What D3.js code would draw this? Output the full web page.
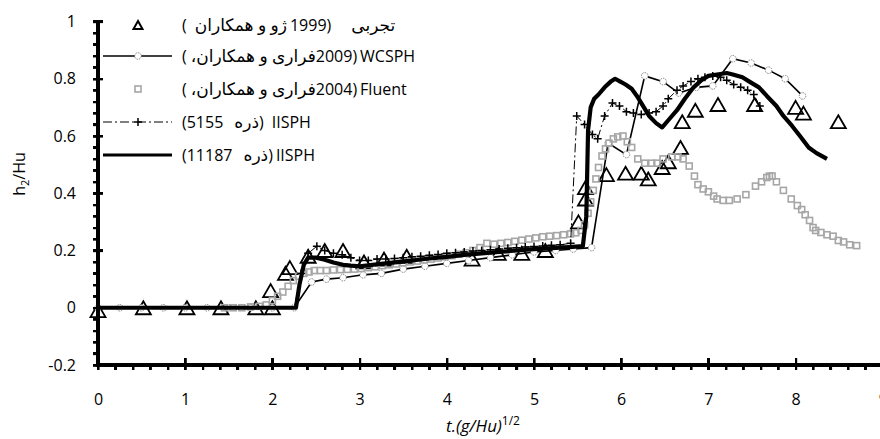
<!DOCTYPE html>
<html>
<head>
<meta charset="utf-8">
<script src="https://cdn.jsdelivr.net/npm/d3@7"></script>
<style>
body { margin: 0; background: #fff; overflow: hidden; }
svg { position: absolute; left: 0; top: 0; }
div.tk { position: absolute; background: #000; }
text { font-family: 'Open Sans', 'DejaVu Sans', sans-serif; fill: #000; }
</style>
</head>
<body>
<svg id="chart" width="880" height="439"></svg>
<script>
// tick labels
var xTicks = [0, 1, 2, 3, 4, 5, 6, 7, 8, 9];
var yTicks = [-0.2, 0, 0.2, 0.4, 0.6, 0.8, 1];
var yTickLabels = ["-0.2", "0", "0.2", "0.4", "0.6", "0.8", "1"];

// experimental (Zhou et al. 1999)
var expData = [[0,-0.01],[0.52,0],[1.02,0],[1.41,0],[1.81,0],[2.0,0],[1.98,0.06],[2.15,0.12],[2.2,0.14],
  [2.41,0.18],[2.6,0.2],[2.81,0.2],[3.05,0.16],[3.28,0.17],[3.54,0.18],[4.29,0.17],[4.59,0.19],[4.86,0.19],
  [5.13,0.2],[5.51,0.3],[5.59,0.38],[5.59,0.42],[5.83,0.465],[6.05,0.47],[6.23,0.47],[6.31,0.45],[6.47,0.49],
  [6.54,0.51],[6.68,0.56],[6.7,0.65],[6.85,0.69],[7.11,0.71],[7.53,0.71],[8.0,0.7],[8.09,0.68],[8.49,0.65]];

// WCSPH (Ferrari et al. 2009)
var wcsphData = [[0,0],[0.25,0],[0.5,0],[0.75,0],[1.0,0],[1.25,0],[1.5,0],[1.75,0],[2.0,0],[2.25,0],
  [2.45,0.09],[2.62,0.1],[2.81,0.105],[3.04,0.115],[3.25,0.12],[3.5,0.135],[3.75,0.145],[4.0,0.155],
  [4.25,0.165],[4.5,0.175],[4.75,0.185],[5.0,0.195],[5.25,0.2],[5.45,0.205],[5.66,0.21],[5.85,0.575],
  [6.06,0.535],[6.27,0.81],[6.48,0.79],[6.66,0.75],[6.86,0.77],[7.05,0.775],[7.28,0.87],[7.49,0.855],
  [7.69,0.83],[7.88,0.8],[8.08,0.74]];

// Fluent (Ferrari et al. 2004)
var fluentData = [[1.45,0],[1.55,0],[1.65,0],[1.75,0.003],[1.85,0.005],[1.93,0.01],[2.0,0.025],[2.06,0.04],
  [2.12,0.055],[2.18,0.075],[2.24,0.095],[2.3,0.11],[2.36,0.12],[2.42,0.125],[2.48,0.13],[2.55,0.13],
  [2.62,0.13],[2.7,0.132],[2.78,0.133],[2.86,0.134],[2.94,0.135],[3.02,0.137],[3.1,0.14],[3.18,0.143],
  [3.26,0.147],[3.34,0.15],[3.42,0.153],[3.5,0.157],[3.58,0.16],[3.66,0.163],[3.74,0.167],[3.82,0.17],
  [3.9,0.174],[3.98,0.178],[4.06,0.182],[4.14,0.187],[4.22,0.192],[4.3,0.2],[4.38,0.21],[4.46,0.225],
  [4.54,0.222],[4.62,0.225],[4.7,0.228],[4.78,0.232],[4.86,0.236],[4.94,0.24],[5.02,0.244],[5.1,0.248],
  [5.18,0.25],[5.26,0.252],[5.34,0.255],[5.42,0.258],[5.48,0.262],[5.54,0.27],[5.58,0.29],[5.62,0.33],
  [5.65,0.37],[5.68,0.41],[5.71,0.45],[5.74,0.49],[5.78,0.53],[5.82,0.555],[5.86,0.575],[5.91,0.59],
  [5.96,0.597],[6.02,0.6],[6.07,0.58],[6.12,0.56],[6.19,0.52],[6.27,0.505],[6.35,0.505],[6.41,0.505],
  [6.48,0.52],[6.58,0.527],[6.65,0.527],[6.71,0.52],[6.78,0.495],[6.84,0.46],[6.88,0.43],[6.94,0.415],
  [7.0,0.405],[7.06,0.39],[7.1,0.38],[7.17,0.375],[7.24,0.375],[7.33,0.38],[7.43,0.395],[7.54,0.425],
  [7.61,0.44],[7.67,0.455],[7.7,0.46],[7.73,0.46],[7.78,0.44],[7.86,0.41],[7.95,0.38],[8.02,0.357],
  [8.07,0.343],[8.11,0.325],[8.16,0.305],[8.2,0.28],[8.23,0.27],[8.29,0.263],[8.36,0.255],[8.43,0.25],
  [8.49,0.235],[8.55,0.23],[8.62,0.22],[8.7,0.217]];

// IISPH 5155 particles
var iisphSmall = [[0,0],[2.25,0],[2.33,0.12],[2.41,0.19],[2.51,0.215],[2.6,0.2],[2.7,0.19],[2.8,0.185],
  [2.9,0.175],[3.0,0.165],[3.1,0.165],[3.2,0.17],[3.3,0.17],[3.4,0.172],[3.5,0.175],[3.6,0.178],[3.7,0.18],
  [3.8,0.183],[3.9,0.186],[4.0,0.19],[4.1,0.192],[4.2,0.195],[4.3,0.198],[4.4,0.2],[4.5,0.203],[4.6,0.205],
  [4.7,0.208],[4.8,0.21],[4.9,0.212],[5.0,0.214],[5.1,0.216],[5.2,0.218],[5.3,0.22],[5.42,0.225],[5.49,0.67],
  [5.58,0.64],[5.67,0.605],[5.73,0.59],[5.81,0.67],[5.9,0.715],[5.98,0.705],[6.06,0.685],[6.14,0.68],
  [6.23,0.675],[6.32,0.68],[6.4,0.685],[6.48,0.705],[6.54,0.73],[6.64,0.76],[6.71,0.775],[6.8,0.79],
  [6.88,0.8],[6.96,0.805],[7.05,0.81],[7.14,0.805],[7.21,0.795],[7.29,0.78],[7.37,0.77],[7.45,0.76],
  [7.52,0.745],[7.59,0.705]];

// IISPH 11187 particles
var iisphLarge = [[0,0],[2.27,0],[2.31,0.08],[2.36,0.15],[2.41,0.175],[2.5,0.175],[2.6,0.168],[2.7,0.158],
  [2.81,0.15],[2.9,0.147],[3.0,0.145],[3.1,0.148],[3.2,0.152],[3.3,0.155],[3.46,0.16],[3.6,0.165],[3.8,0.172],
  [4.0,0.178],[4.2,0.185],[4.4,0.19],[4.6,0.195],[4.8,0.2],[5.0,0.205],[5.2,0.208],[5.4,0.212],[5.56,0.215],
  [5.6,0.32],[5.62,0.62],[5.65,0.7],[5.69,0.73],[5.74,0.745],[5.81,0.77],[5.88,0.79],[5.93,0.8],[5.99,0.79],
  [6.05,0.78],[6.12,0.765],[6.18,0.74],[6.25,0.705],[6.32,0.67],[6.4,0.645],[6.47,0.63],[6.54,0.655],
  [6.64,0.69],[6.73,0.73],[6.83,0.77],[6.92,0.795],[7.0,0.81],[7.1,0.815],[7.21,0.82],[7.28,0.815],
  [7.39,0.805],[7.47,0.79],[7.58,0.77],[7.67,0.74],[7.78,0.705],[7.86,0.67],[7.96,0.635],[8.05,0.6],
  [8.15,0.56],[8.24,0.54],[8.36,0.52]];

// legend rows, visual order left to right: [text, gap after, rtl]
var legendRows = [
  [["(",8,false],["ژو و همکاران",3,true],["1999",0,false],[")",20,false],["تجربی",0,true]],
  [["(",4,false],["فراری و همکاران،",0,true],["2009",0,false],[")",3,false],["WCSPH",0,false]],
  [["(",4,false],["فراری و همکاران،",0,true],["2004",0,false],[")",3,false],["Fluent",0,false]],
  [["(5155",11,false],["ذره",0,true],[")",8,false],["IISPH",0,false]],
  [["(11187",11,false],["ذره",0,true],[")",3,false],["IISPH",0,false]]
];

var svg = d3.select("#chart");
var x = d3.scaleLinear().domain([0, 9]).range([98, 882.8]);
var y = d3.scaleLinear().domain([-0.2, 1]).range([365, 21.5]);
var x0 = x(0), yB = y(-0.2);

// ---- axes ----
function styleAxis(g) {
	g.select(".domain").remove();
	g.selectAll(".tick line").attr("stroke", "#000").attr("stroke-width", 2.2);
	g.selectAll(".tick text").attr("font-size", 16).attr("fill", "#000");
}

var axes = svg.append("g");
// y minor ticks (outside)
axes.append("g").attr("transform", "translate(" + x0 + ",0)")
	.call(d3.axisLeft(y).tickValues(d3.range(-0.2, 1.001, 0.04)).tickSize(5).tickFormat(""))
	.call(styleAxis);
// y major ticks, both sides
axes.append("g").attr("transform", "translate(" + x0 + ",0)")
	.call(d3.axisRight(y).tickValues(yTicks).tickSize(5).tickFormat(""))
	.call(styleAxis);
axes.append("g").attr("transform", "translate(" + x0 + ",0)")
	.call(d3.axisLeft(y).tickValues(yTicks).tickSize(5).tickPadding(17)
		.tickFormat(function(d, i) { return yTickLabels[i]; }))
	.call(styleAxis);
// x minor ticks (below)
axes.append("g").attr("transform", "translate(0," + yB + ")")
	.call(d3.axisBottom(x).tickValues(d3.range(0, 9.01, 0.2)).tickSize(5).tickFormat(""))
	.call(styleAxis);
// x major ticks (above)
axes.append("g").attr("transform", "translate(0," + yB + ")")
	.call(d3.axisTop(x).tickValues(xTicks).tickSize(7).tickFormat(""))
	.call(styleAxis);
axes.append("g").attr("transform", "translate(0," + yB + ")")
	.call(d3.axisBottom(x).tickValues(xTicks).tickSize(0).tickPadding(29).tickFormat(d3.format("d")))
	.call(styleAxis);
axes.append("line").attr("x1", x0).attr("x2", x0).attr("y1", y(1) - 1).attr("y2", yB + 1.5)
	.attr("stroke", "#000").attr("stroke-width", 3.2);
axes.append("line").attr("x1", x0).attr("x2", 880).attr("y1", yB).attr("y2", yB)
	.attr("stroke", "#000").attr("stroke-width", 3.2);

// ---- series ----
var lineGen = d3.line().x(function(d) { return x(d[0]); }).y(function(d) { return y(d[1]); });
var plot = svg.append("g");

function triPath(w, h) {
	return "M0," + (-h / 2) + "L" + (w / 2) + "," + (h / 2) + "L" + (-w / 2) + "," + (h / 2) + "Z";
}
var crossPath = "M-4,0H4M0,-4V4";

// experimental triangles
plot.append("g").selectAll("path").data(expData).enter().append("path")
	.attr("transform", function(d) { return "translate(" + x(d[0]) + "," + y(d[1]) + ")"; })
	.attr("d", triPath(15, 13))
	.attr("fill", "none").attr("stroke", "#000").attr("stroke-width", 1.8);

// WCSPH
plot.append("path").datum(wcsphData).attr("d", lineGen)
	.attr("fill", "none").attr("stroke", "#000").attr("stroke-width", 1.6);
plot.append("g").selectAll("circle").data(wcsphData).enter().append("circle")
	.attr("cx", function(d) { return x(d[0]); }).attr("cy", function(d) { return y(d[1]); })
	.attr("r", 3.3).attr("fill", "#fff").attr("stroke", "#666").attr("stroke-width", 0.8)
	.attr("stroke-dasharray", "1.5,1");

// Fluent squares
plot.append("g").selectAll("rect").data(fluentData).enter().append("rect")
	.attr("x", function(d) { return x(d[0]) - 3; }).attr("y", function(d) { return y(d[1]) - 3; })
	.attr("width", 6).attr("height", 6)
	.attr("fill", "none").attr("stroke", "#a6a6a6").attr("stroke-width", 1.6);

// IISPH 5155
plot.append("path").datum(iisphSmall).attr("d", lineGen)
	.attr("fill", "none").attr("stroke", "#000").attr("stroke-width", 1)
	.attr("stroke-dasharray", "9,3,2,3");
plot.append("g").selectAll("path").data(iisphSmall.slice(2)).enter().append("path")
	.attr("transform", function(d) { return "translate(" + x(d[0]) + "," + y(d[1]) + ")"; })
	.attr("d", crossPath).attr("fill", "none").attr("stroke", "#000").attr("stroke-width", 1.5);

// IISPH 11187
plot.append("path").datum(iisphLarge).attr("d", lineGen)
	.attr("fill", "none").attr("stroke", "#000").attr("stroke-width", 4.2)
	.attr("stroke-linejoin", "round");

// ---- legend ----
var legY = [25, 56, 89, 122, 155];
var lx1 = 103, lx2 = 172, lmx = 138, textX = 182;
var leg = svg.append("g");

leg.append("path").attr("transform", "translate(" + lmx + "," + legY[0] + ")")
	.attr("d", triPath(9, 8)).attr("fill", "none").attr("stroke", "#000").attr("stroke-width", 2);

leg.append("line").attr("x1", lx1).attr("x2", lx2).attr("y1", legY[1]).attr("y2", legY[1])
	.attr("stroke", "#000").attr("stroke-width", 1.6);
leg.append("circle").attr("cx", lmx).attr("cy", legY[1]).attr("r", 3.3)
	.attr("fill", "#fff").attr("stroke", "#666").attr("stroke-width", 0.8).attr("stroke-dasharray", "1.5,1");

leg.append("rect").attr("x", lmx - 3).attr("y", legY[2] - 3).attr("width", 6).attr("height", 6)
	.attr("fill", "none").attr("stroke", "#a6a6a6").attr("stroke-width", 1.6);

leg.append("line").attr("x1", lx1).attr("x2", lx2).attr("y1", legY[3]).attr("y2", legY[3])
	.attr("stroke", "#000").attr("stroke-width", 1).attr("stroke-dasharray", "9,3,2,3");
leg.append("path").attr("transform", "translate(" + lmx + "," + legY[3] + ")")
	.attr("d", crossPath).attr("fill", "none").attr("stroke", "#000").attr("stroke-width", 1.5);

leg.append("line").attr("x1", lx1).attr("x2", lx2).attr("y1", legY[4]).attr("y2", legY[4])
	.attr("stroke", "#000").attr("stroke-width", 3);

legendRows.forEach(function(row, i) {
	var cx = textX;
	row.forEach(function(seg) {
		var t = leg.append("text").attr("y", legY[i]).attr("dy", "0.35em")
			.attr("font-size", seg[2] ? 17 : 16)
			.text(seg[2] ? "\u202B" + seg[0] + "\u202C" : seg[0]);
		var w = t.node().getComputedTextLength();
		t.attr("x", cx + w / 2).attr("text-anchor", "middle");
		cx += w + seg[1];
	});
});

// axis titles
var xt = svg.append("text").attr("x", 483).attr("y", 432).attr("text-anchor", "middle")
	.attr("font-size", 17);
xt.append("tspan").attr("font-style", "italic").text("t.(g/Hu)");
xt.append("tspan").attr("dy", -7).attr("font-size", 12).text("1/2");

var yt = svg.append("text").attr("transform", "translate(25,174) rotate(-90)")
	.attr("text-anchor", "middle").attr("font-size", 16);
yt.append("tspan").text("h");
yt.append("tspan").attr("dy", 4).attr("font-size", 11).text("2");
yt.append("tspan").attr("dy", -4).text("/Hu");

// ---- frame and tick marks again as html blocks placed by the same scales ----
var body = d3.select("body");
function block(l, t, w, h) {
	body.append("div").attr("class", "tk")
		.style("left", l + "px").style("top", t + "px")
		.style("width", w + "px").style("height", h + "px");
}
block(x0 - 1.6, y(1) - 1, 3.2, yB - y(1) + 2.6);
block(x0 - 1.6, yB - 1.6, 880 - x0 + 1.6, 3.2);
d3.range(-0.2, 1.001, 0.04).forEach(function(v) { block(x0 - 5, y(v) - 1.1, 5, 2.2); });
yTicks.forEach(function(v) { block(x0 - 5, y(v) - 1.1, 10, 2.2); });
d3.range(0, 9.01, 0.2).forEach(function(v) { if (x(v) < 880) block(x(v) - 1.1, yB, 2.2, 5); });
xTicks.forEach(function(v) { if (x(v) < 880) block(x(v) - 1.1, yB - 7, 2.2, 7); });
</script>
</body>
</html>
